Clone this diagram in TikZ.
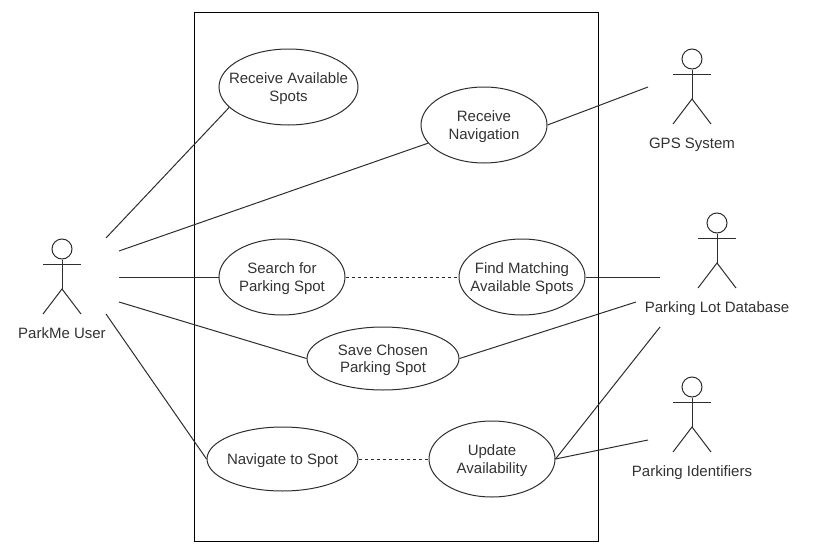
\documentclass[tikz,border=0pt]{standalone}
\usepackage{fontspec}
\setmainfont{Liberation Sans}
\usetikzlibrary{shapes.geometric, positioning}
\definecolor{lineGray}{RGB}{45, 45, 45}
\definecolor{textGray}{RGB}{50, 50, 50}
\newcommand{\stickman}[4]{% name, x, y of head, label
    \node[head] (#1head) at (#2,#3) {};
    \coordinate (#1hip) at (#2,#3+40);
    \draw[line] (#1head.south) -- (#1hip);
    \draw[line] (#2-19,#3+15) -- (#2+19,#3+15);
    \draw[line] (#2-19,#3+65) -- (#1hip) -- (#2+19,#3+65);
    \node[actortext] (#1) at (#2,#3+89) {#4};
}
\begin{document}
\begin{tikzpicture}[x=1pt, y=-1pt]
    \tikzstyle{line} = [draw=lineGray, line width=1pt]
    \tikzstyle{head} = [circle, draw=lineGray, line width=1pt, minimum size=20pt, inner sep=0pt]
    \tikzstyle{actortext} = [anchor=base, font=\fontsize{15}{18}\selectfont, text=textGray, inner sep=0pt]
    \tikzstyle{usecase} = [ellipse, draw=lineGray, line width=1pt, minimum width=126pt, minimum height=76pt, inner sep=-30pt, text depth=-1pt, align=center, font=\fontsize{15}{17.5}\selectfont, text=textGray]
    \useasboundingbox (0,0) rectangle (820,549);

    % system boundary
    \node[draw=black, line width=1pt, minimum width=404pt, minimum height=529pt, inner sep=0pt] (system) at (396,276.5) {};

    % use cases
    \node[usecase, minimum width=139pt] (avail) at (288.5,87) {Receive Available\\Spots};
    \node[usecase] (nav) at (484,125) {Receive\\Navigation};
    \node[usecase] (search) at (282,277) {Search for\\Parking Spot};
    \node[usecase, right=113pt of search] (match) {Find Matching\\Available Spots};
    \node[usecase, minimum width=152pt, minimum height=63pt] (save) at (383,358.5) {Save Chosen\\Parking Spot};
    \node[usecase, minimum width=151pt, minimum height=64pt] (goto) at (282.5,459) {Navigate to Spot};
    \node[usecase, right=70pt of goto] (update) {Update\\Availability};

    % actors
    \stickman{user}{62}{249}{ParkMe User}
    \stickman{gps}{692}{59}{GPS System}
    \stickman{db}{717}{223}{Parking Lot Database}
    \stickman{ident}{692}{387}{Parking Identifiers}

    % free ends
    \coordinate (u1) at (106,238);
    \coordinate (u2) at (119,251);
    \coordinate (u3) at (119,277);
    \coordinate (u4) at (119,302);
    \coordinate (u5) at (106,314);
    \coordinate (g1) at (648,87);
    \coordinate (d1) at (660,277);
    \coordinate (d2) at (636,302);
    \coordinate (d3) at (660,327);
    \coordinate (i1) at (648,440);

    \draw[line] (u1) -- (avail.199);
    \draw[line] (u2) -- (nav.198);
    \draw[line] (u3) -- (search.west);
    \draw[line] (u4) -- (save.west);
    \draw[line] (u5) -- (goto.west);
    \draw[line] (nav.east) -- (g1);
    \draw[line] (match.east) -- (d1);
    \draw[line] (save.east) -- (d2);
    \draw[line] (update.east) -- (d3);
    \draw[line] (update.east) -- (i1);
    \draw[line, dashed] (search) -- (match);
    \draw[line, dashed] (goto) -- (update);
\end{tikzpicture}
\end{document}
